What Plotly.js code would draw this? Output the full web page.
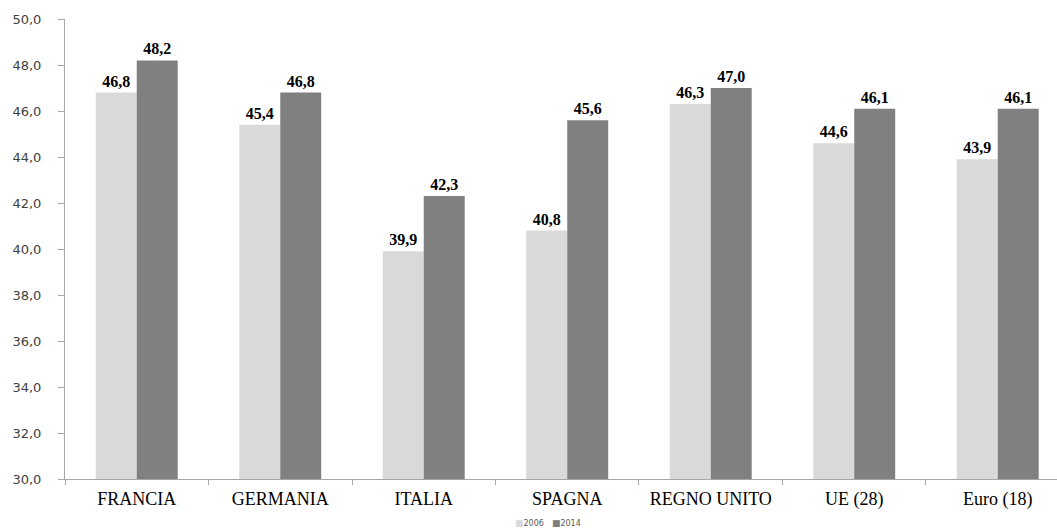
<!DOCTYPE html>
<html><head><meta charset="utf-8">
<script src="https://cdn.plot.ly/plotly-3.0.1.min.js"></script>
<style>html,body{margin:0;padding:0;background:#fff}#c{width:1057px;height:532px}</style>
</head><body><div id="c"></div>
<script>
const categories = ["FRANCIA","GERMANIA","ITALIA","SPAGNA","REGNO UNITO","UE (28)","Euro (18)"];
const seriesNames = ["2006","2014"];
const series2006 = [46.8,45.4,39.9,40.8,46.3,44.6,43.9];
const series2014 = [48.2,46.8,42.3,45.6,47.0,46.1,46.1];
const yTicks = [30,32,34,36,38,40,42,44,46,48,50];
const colors = ["#d9d9d9","#808080"];

const labelFont = {family:"Liberation Serif, serif", size:16, color:"#000"};
const traces = [
  {type:"bar", name:seriesNames[0], x:categories, y:series2006, marker:{color:colors[0]}, showlegend:false,
   texttemplate:"<b>%{y:.1f}</b>", textposition:"outside", textfont:labelFont, cliponaxis:false},
  {type:"bar", name:seriesNames[1], x:categories, y:series2014, marker:{color:colors[1]}, showlegend:false,
   texttemplate:"<b>%{y:.1f}</b>", textposition:"outside", textfont:labelFont, cliponaxis:false}
];
const legendText = seriesNames.map((n,i) =>
  "<span style='color:" + colors[i] + ";font-size:9px'>■</span>" + n).join("\u2003");
const layout = {
  width:1057, height:532,
  margin:{l:65, r:0, t:19, b:53},
  paper_bgcolor:"#fff", plot_bgcolor:"#fff",
  separators:",.",
  barmode:"group", bargap:0.429, bargroupgap:0,
  showlegend:false,
  annotations:[{xref:"paper", yref:"paper", x:(548-65)/992, y:-(523-479)/460, xanchor:"center", yanchor:"middle",
    showarrow:false, text:legendText, font:{family:"DejaVu Sans, sans-serif", size:8, color:"#595959"}}],
  xaxis:{type:"category", range:[-0.5, 6.413], showline:true, linecolor:"#a6a6a6", linewidth:1,
         ticks:"outside", tickson:"boundaries", ticklen:5, tickcolor:"#a6a6a6",
         ticklabelstandoff:3, automargin:false,
         showgrid:false, tickfont:{family:"Liberation Serif, serif", size:18, color:"#000"}},
  yaxis:{range:[30,50], tickvals:yTicks, tickformat:".1f", showline:true, linecolor:"#a6a6a6",
         ticks:"outside", ticklen:6, tickcolor:"#a6a6a6", showgrid:false, zeroline:false,
         ticklabelstandoff:14, automargin:false,
         tickfont:{family:"DejaVu Sans, sans-serif", size:13, color:"#404040"}}
};
Plotly.newPlot("c", traces, layout, {displayModeBar:false, staticPlot:true});
</script></body></html>
